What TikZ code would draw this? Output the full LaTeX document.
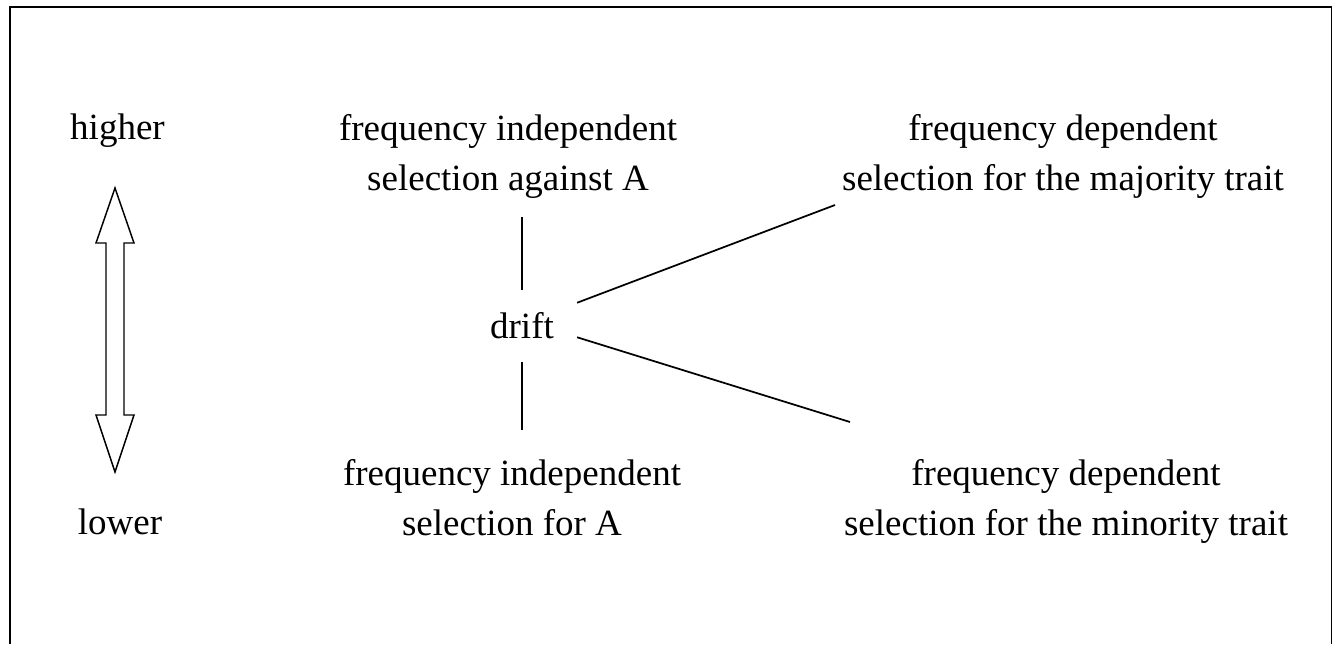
\documentclass[tikz,border=0pt]{standalone}
\usepackage{fontspec}
\setmainfont{Liberation Serif}
\begin{document}
\begin{tikzpicture}[x=0.75pt,y=-0.75pt,
  lbl/.style={font=\fontsize{27.75pt}{37.5pt}\selectfont, inner sep=0pt, anchor=base, align=center},
  conn/.style={line width=1.3pt},
  frame/.style={line width=1.3pt},
  bigarrow/.style={line width=1.1pt, line join=miter}]
\useasboundingbox (0,0) rectangle (1334,644);
\draw[frame] (10.2,644) -- (10.2,6.7) -- (1331.5,6.7) -- (1331.5,644);
% level labels
\node[lbl] (higher) at (117.5,139) {higher};
\node[lbl] (lower) at (120,534) {lower};
% double arrow
\draw[bigarrow] (115,188) -- (134,243) -- (124,243) -- (124,415) -- (134,415) -- (115,472)
  -- (96,415) -- (106,415) -- (106,243) -- (96,243) -- cycle;
% text blocks
\node[lbl] (topmid) at (508,190) {frequency independent\\selection against A};
\node[lbl] (botmid) at (512,535) {frequency independent\\selection for A};
\node[lbl] (majR) at (1063,190) {frequency dependent\\selection for the majority trait};
\node[lbl] (minR) at (1066,535) {frequency dependent\\selection for the minority trait};
\node[lbl, text height=26.25pt, text depth=0pt, inner xsep=17.25pt] (drift) at (522,338) {drift};
% connector ends
\coordinate (topend) at (522,217);
\coordinate (botend) at (522,430);
\coordinate (majend) at (835,205);
\coordinate (minend) at (850,422);
% connectors
\draw[conn, shorten <=9.75pt] (drift.north) -- (topend);
\draw[conn, shorten <=18pt] (drift.south) -- (botend);
\draw[conn] (drift.north east) -- (majend);
\draw[conn] ([yshift=0.75pt]drift.south east) -- (minend);
\end{tikzpicture}
\end{document}
